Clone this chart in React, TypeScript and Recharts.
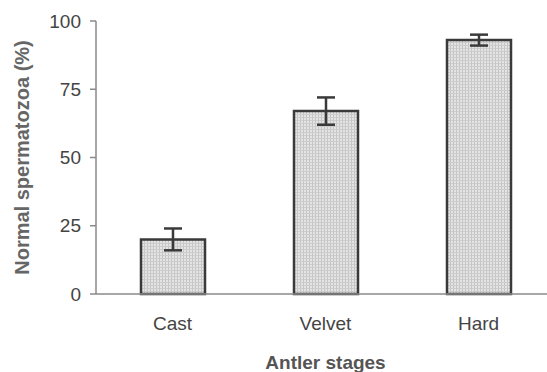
// bar chart with error bars, scanned look

import { Bar, BarChart, ErrorBar, XAxis, YAxis } from "recharts";

const stages = ["Cast", "Velvet", "Hard"];
const normalPct = [20, 67, 93];
const sem = [4, 5, 2];
const yTicks = [0, 25, 50, 75, 100];
const boundaryTicks = [1, 2];

const data = stages.map((name, i) => ({ name, value: normalPct[i], err: sem[i], pos: i + 0.5 }));

const ink = "#3a3a3a";
const axisGrey = "#8a8a8a";
const font = "'Liberation Sans', Arial, sans-serif";

export default function App() {
    return (
        <div style={{ position: "absolute", left: 0, top: 0, width: 547, height: 372, overflow: "hidden", background: "#fff" }}>
            <BarChart
                width={560}
                height={372}
                data={data}
                margin={{ top: 21, right: 5, bottom: 0, left: 0 }}
                style={{ fontFamily: font }}
            >
                <defs>
                    <pattern id="stipple" width="3" height="3" patternUnits="userSpaceOnUse">
                        <rect width="3" height="3" fill="#e4e4e4" />
                        <rect width="1" height="3" fill="#c4c4c4" />
                        <rect width="3" height="1" fill="#cccccc" />
                    </pattern>
                </defs>
                <XAxis
                    xAxisId="a_edges"
                    type="number"
                    dataKey="pos"
                    domain={[0, 3]}
                    ticks={boundaryTicks}
                    tick={false}
                    tickSize={5}
                    height={1}
                    axisLine={{ stroke: axisGrey, strokeWidth: 1.5 }}
                    tickLine={{ stroke: axisGrey, strokeWidth: 1.5 }}
                />
                <XAxis
                    xAxisId="b_cat"
                    dataKey="name"
                    height={77}
                    axisLine={false}
                    tickLine={false}
                    tickSize={0}
                    tickMargin={22}
                    tick={{ fill: "#444", fontSize: 19 }}
                    label={{ value: "Antler stages", position: "insideBottom", offset: 3, fill: "#555", fontSize: 19, fontWeight: "bold" }}
                />
                <YAxis
                    width={96}
                    domain={[0, 100]}
                    ticks={yTicks}
                    tickSize={6}
                    tickMargin={9}
                    axisLine={{ stroke: axisGrey, strokeWidth: 1.5 }}
                    tickLine={{ stroke: axisGrey, strokeWidth: 1.5 }}
                    tick={{ fill: "#444", fontSize: 19 }}
                    label={{ value: "Normal spermatozoa (%)", angle: -90, position: "insideLeft", offset: 22, fill: "#666", fontSize: 20, fontWeight: "bold", style: { textAnchor: "middle" } }}
                />
                <Bar xAxisId="b_cat" dataKey="value" barSize={64} fill="url(#stipple)" stroke={ink} strokeWidth={2.5} isAnimationActive={false}>
                    <ErrorBar dataKey="err" width={9} stroke={ink} strokeWidth={2.5} isAnimationActive={false} />
                </Bar>
            </BarChart>
        </div>
    );
}
